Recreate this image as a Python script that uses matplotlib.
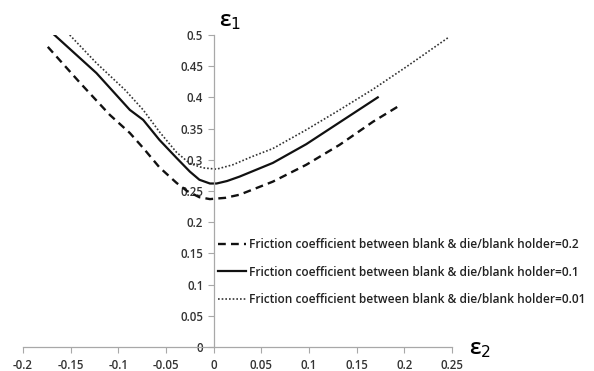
import matplotlib
matplotlib.use("Agg")
import matplotlib.pyplot as plt

# curvas límite de conformado
e2_02 = [-0.174, -0.140, -0.109, -0.088, -0.074, -0.057, -0.039, -0.028, -0.015, -0.004,
         0.012, 0.027, 0.062, 0.097, 0.132, 0.167, 0.196]
e1_02 = [0.481, 0.423, 0.372, 0.343, 0.319, 0.288, 0.263, 0.250, 0.240, 0.237,
         0.239, 0.244, 0.265, 0.292, 0.324, 0.361, 0.388]

e2_01 = [-0.167, -0.123, -0.088, -0.074, -0.057, -0.039, -0.025, -0.015, -0.004, 0.003,
         0.014, 0.027, 0.062, 0.097, 0.132, 0.172]
e1_01 = [0.500, 0.439, 0.380, 0.364, 0.332, 0.303, 0.281, 0.268, 0.262, 0.262,
         0.266, 0.273, 0.295, 0.325, 0.360, 0.400]

e2_001 = [-0.151, -0.123, -0.093, -0.074, -0.057, -0.039, -0.025, -0.011, 0.003, 0.020,
          0.040, 0.062, 0.097, 0.132, 0.167, 0.202, 0.247]
e1_001 = [0.500, 0.455, 0.412, 0.380, 0.345, 0.312, 0.294, 0.287, 0.285, 0.292,
          0.305, 0.318, 0.348, 0.380, 0.413, 0.449, 0.497]

etiquetas = [
    "Friction coefficient between blank & die/blank holder=0.2",
    "Friction coefficient between blank & die/blank holder=0.1",
    "Friction coefficient between blank & die/blank holder=0.01",
]

xticks = [-0.2, -0.15, -0.1, -0.05, 0, 0.05, 0.1, 0.15, 0.2, 0.25]
yticks = [0, 0.05, 0.1, 0.15, 0.2, 0.25, 0.3, 0.35, 0.4, 0.45, 0.5]

plt.rcParams["font.family"] = ["Open Sans", "DejaVu Sans"]

fig = plt.figure(figsize=(5.94, 3.71), dpi=100)
ax = fig.add_axes([0.0387, 0.0647, 0.7225, 0.841])

ax.plot(e2_02, e1_02, color="#111111", lw=1.7, linestyle=(0, (3.3, 2.2)), label=etiquetas[0])
ax.plot(e2_01, e1_01, color="#111111", lw=1.6, linestyle="-", label=etiquetas[1])
ax.plot(e2_001, e1_001, color="#333333", lw=1.2, linestyle=(0, (1, 1.2)), label=etiquetas[2])

ax.set_xlim(-0.2, 0.25)
ax.set_ylim(0, 0.5)
ax.spines["left"].set_position(("data", 0))
ax.spines["bottom"].set_position(("data", 0))
ax.spines["top"].set_visible(False)
ax.spines["right"].set_visible(False)
for s in ("left", "bottom"):
    ax.spines[s].set_color("#a8a8a8")
    ax.spines[s].set_linewidth(0.9)

ax.set_xticks(xticks)
ax.set_yticks(yticks)
ax.set_xticklabels([f"{v:g}" for v in xticks])
ax.set_yticklabels([f"{v:g}" for v in yticks])
ax.tick_params(axis="both", direction="out", length=4, width=0.8, color="#a8a8a8",
               labelsize=8.3, labelcolor="#333333")
ax.tick_params(axis="x", pad=5)
for t in ax.get_xticklabels() + ax.get_yticklabels():
    t.set_fontweight("semibold")

ax.text(0.006, 0.505, "ε$_1$", fontsize=16, fontweight="semibold", ha="left", va="bottom")
fig.text(0.79, 0.03, "ε$_2$", fontsize=16, fontweight="semibold", ha="left", va="bottom")

leg = ax.legend(loc="center left", bbox_to_anchor=(0.4545, 0.24), frameon=False,
                fontsize=8.6, handlelength=2.3, handletextpad=0.25, labelspacing=1.2,
                borderpad=0, borderaxespad=0)
for t in leg.get_texts():
    t.set_fontweight("semibold")
    t.set_color("#222222")

fig.savefig("out.png", dpi=100)
